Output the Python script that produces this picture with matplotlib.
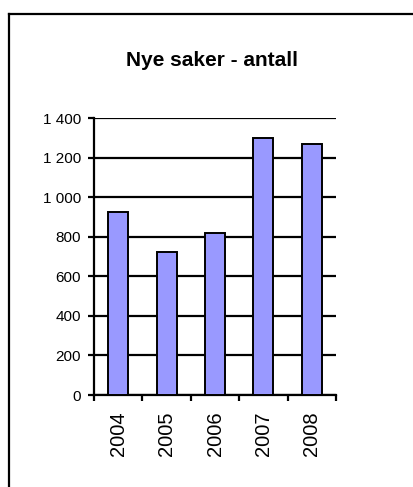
import matplotlib
matplotlib.use('Agg')
import matplotlib.pyplot as plt
from matplotlib.ticker import FuncFormatter, FixedLocator
from matplotlib.lines import Line2D

plt.rcParams['font.family'] = ['Liberation Sans', 'DejaVu Sans']

years = ['2004', '2005', '2006', '2007', '2008']
counts = [925, 724, 820, 1298, 1268]
yticks = [0, 200, 400, 600, 800, 1000, 1200, 1400]

fig = plt.figure(figsize=(4.13, 4.87), dpi=100)
ax = fig.add_axes([0.2276, 0.1889, 0.586, 0.5688])

x = list(range(len(years)))
ax.bar(x, counts, width=0.41, color='#9999FF', edgecolor='black',
       linewidth=1.4, zorder=3)

ax.set_xlim(-0.5, len(years) - 0.5)
ax.set_ylim(0, 1400)
ax.set_yticks(yticks)
ax.yaxis.set_major_formatter(FuncFormatter(lambda v, p: f'{int(v):,}'.replace(',', ' ')))
ax.grid(axis='y', color='black', linewidth=1.6, zorder=0)
ax.set_axisbelow(True)

ax.set_xticks(x)
ax.set_xticklabels(years, rotation=90, fontsize=14.5)
ax.tick_params(axis='x', which='major', length=0, pad=12)
ax.xaxis.set_minor_locator(FixedLocator([i - 0.5 for i in range(len(years) + 1)]))
ax.tick_params(axis='x', which='minor', length=4, width=1.6, direction='out')
ax.tick_params(axis='y', length=4, width=1.6, pad=5.5, labelsize=11)

for s in ['top', 'right']:
    ax.spines[s].set_visible(False)
for s in ['left', 'bottom']:
    ax.spines[s].set_linewidth(1.6)

fig.text(211.5 / 413, 1 - 66 / 487, 'Nye saker - antall', ha='center', va='baseline',
         fontsize=15, fontweight='bold')

# outer frame (top and left edges)
fig.add_artist(Line2D([9 / 413, 9 / 413], [0, 1 - 14 / 487], color='black',
                      linewidth=1.6, transform=fig.transFigure))
fig.add_artist(Line2D([9 / 413, 1], [1 - 14 / 487, 1 - 14 / 487], color='black',
                      linewidth=1.6, transform=fig.transFigure))

fig.savefig('out.png', dpi=100)
